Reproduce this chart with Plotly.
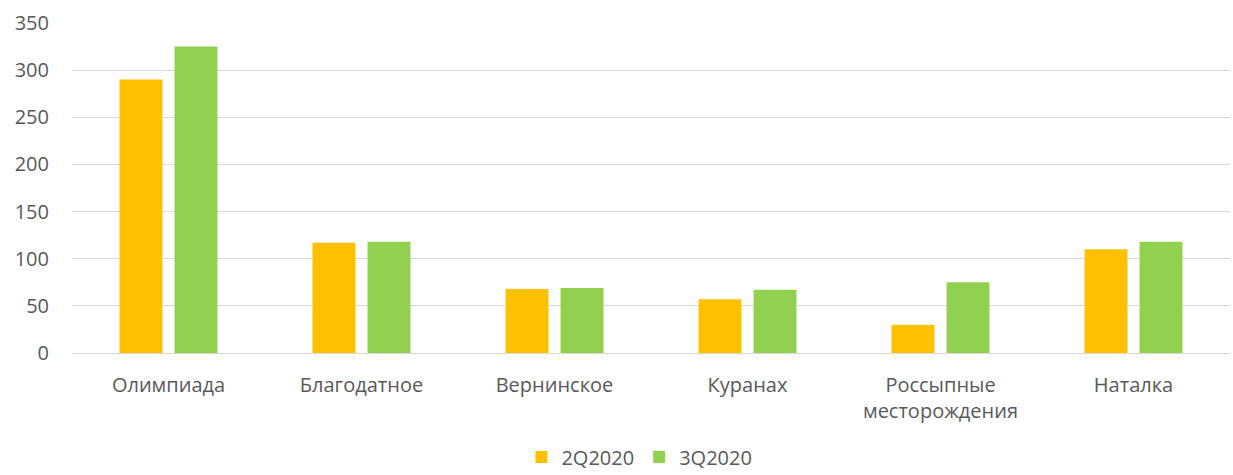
import plotly.graph_objects as go

categories = ["Олимпиада", "Благодатное", "Вернинское", "Куранах", "Россыпные<br>месторождения", "Наталка"]
q2_2020 = [290, 117, 68, 57, 30, 110]
q3_2020 = [325, 118, 69, 67, 75, 118]
series_names = ["2Q2020", "3Q2020"]
y_ticks = [0, 50, 100, 150, 200, 250, 300, 350]

font_family = "Open Sans, Liberation Sans, sans-serif"
text_color = "#595959"
fsize = 20

fig = go.Figure()
fig.add_trace(go.Bar(x=categories, y=q2_2020, name=series_names[0], marker_color="#FFC000",
                     marker_line_width=0))
fig.add_trace(go.Bar(x=categories, y=q3_2020, name=series_names[1], marker_color="#92D050",
                     marker_line_width=0))

fig.update_layout(
    width=1233, height=475,
    margin=dict(l=72, r=3, t=23, b=122, autoexpand=False),
    paper_bgcolor="white", plot_bgcolor="white",
    barmode="group", bargap=0.43, bargroupgap=0.22,
    font=dict(family=font_family, size=fsize, color=text_color),
    showlegend=True,
    legend=dict(orientation="h", x=0.49, xanchor="center", y=-0.315, yanchor="middle",
                font=dict(size=fsize, color=text_color),
                itemwidth=30, traceorder="normal", tracegroupgap=0),
)
fig.update_yaxes(range=[0, 350], tickvals=y_ticks, showgrid=True, gridcolor="#D9D9D9",
                 gridwidth=1, zeroline=False, showline=False, ticks="", automargin=False,
                 ticklabelstandoff=22, tickfont=dict(size=fsize, color=text_color))
fig.update_xaxes(showgrid=False, showline=True, linecolor="#D9D9D9", linewidth=1, ticks="",
                 automargin=False,
                 ticklabelstandoff=14, tickfont=dict(size=fsize, color=text_color))

fig.write_html("out.html", config={"displayModeBar": False},
               post_script="document.body.style.margin='0';document.body.style.overflow='hidden';")
